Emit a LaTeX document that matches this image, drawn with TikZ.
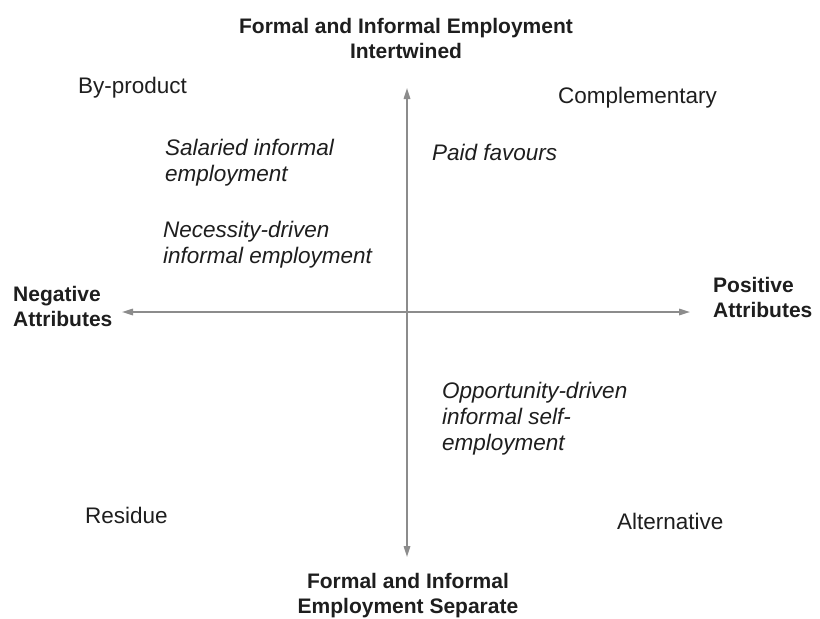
\documentclass[tikz,border=0pt]{standalone}
\usepackage{fontspec}
\setmainfont{Liberation Sans}
\usetikzlibrary{arrows.meta}
\definecolor{axisgray}{RGB}{140,140,140}
\definecolor{txt}{RGB}{30,30,30}
\begin{document}
\begin{tikzpicture}[x=1pt,y=-1pt,
  axis/.style={draw=axisgray, line width=1.6pt,
    {Triangle[length=11pt,width=6.5pt]}-{Triangle[length=11pt,width=6.5pt]}},
  lab/.style={inner sep=0pt, anchor=base west, text=txt,
    font=\fontsize{22.5}{26}\selectfont},
  emlab/.style={lab, align=left, font=\fontsize{22.5}{26}\selectfont\itshape},
  head/.style={inner sep=0pt, anchor=base, text=txt, align=center,
    font=\fontsize{21}{24.5}\selectfont\bfseries},
  sidehead/.style={head, anchor=base west, align=left}]
\useasboundingbox (0,0) rectangle (820,619);
\fill[white] (0,0) rectangle (820,619);
\coordinate (top) at (407,88);
\coordinate (bottom) at (407,557);
\coordinate (left) at (122,312);
\coordinate (right) at (690,312);
\draw[axis] (bottom) -- (top);
\draw[axis] (left) -- (right);
\node[head] (ttl) at (406,58) {Formal and Informal Employment\\Intertwined};
\node[head] (btl) at (408,613) {Formal and Informal\\Employment Separate};
\node[sidehead] (neg) at (13,326) {Negative\\Attributes};
\node[sidehead] (pos) at (713,317) {Positive\\Attributes};
\node[lab] (byp) at (78,93) {By-product};
\node[lab] (comp) at (558,103) {Complementary};
\node[lab] (res) at (85,523) {Residue};
\node[lab] (alt) at (617,529) {Alternative};
\node[emlab] (sal) at (165,181) {Salaried informal\\employment};
\node[emlab] (nec) at (163,263) {Necessity-driven\\informal employment};
\node[emlab] (paid) at (432,160) {Paid favours};
\node[emlab] (opp) at (442,450) {Opportunity-driven\\informal self-\\employment};
\end{tikzpicture}
\end{document}
